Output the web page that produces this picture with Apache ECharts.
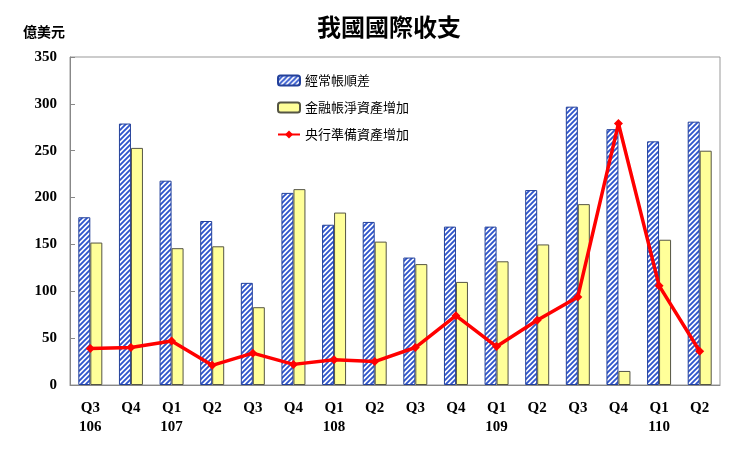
<!DOCTYPE html>
<html><head><meta charset="utf-8">
<script src="https://cdn.jsdelivr.net/npm/echarts@6/dist/echarts.min.js"></script>
<style>html,body{margin:0;padding:0;background:#fff}#c{width:747px;height:459px}</style>
</head><body><div id="c"></div>
<script>
const categories = ['Q3\n106','Q4','Q1\n107','Q2','Q3','Q4','Q1\n108','Q2','Q3','Q4','Q1\n109','Q2','Q3','Q4','Q1\n110','Q2'];
const currentAccount = [179, 279, 218, 175, 109, 205, 171, 174, 136, 169, 169, 208, 297, 273, 260, 281];
const financialAccount = [152, 253, 146, 148, 83, 209, 184, 153, 129, 110, 132, 150, 193, 15, 155, 250];
const reserveAssets = [39, 40, 47, 21, 34, 22, 27, 25, 40, 74, 41, 69, 94, 279, 106, 36];
const seriesNames = ['經常帳順差','金融帳淨資產增加','央行準備資產增加'];

function hatch(){
  const n = 5, c = document.createElement('canvas');
  c.width = n; c.height = n;
  const g = c.getContext('2d');
  g.fillStyle = '#ffffff'; g.fillRect(0,0,n,n);
  g.strokeStyle = '#2f55cc'; g.lineWidth = 1.9;
  g.beginPath();
  g.moveTo(-1, n+1); g.lineTo(n+1, -1);
  g.moveTo(-1, 1); g.lineTo(1, -1);
  g.moveTo(n-1, n+1); g.lineTo(n+1, n-1);
  g.stroke();
  return c;
}
const chart = echarts.init(document.getElementById('c'));
const serif = '"Liberation Serif","Times New Roman",serif';
const cjk = '"Noto Sans CJK TC","Noto Sans CJK SC",sans-serif';
chart.setOption({
  animation: false,
  backgroundColor: '#fff',
  title: [
    {text: '我國國際收支', left: 384, top: 10, textAlign: 'center',
     textStyle: {fontFamily: cjk, fontSize: 24, fontWeight: 'bold', color: '#000'}},
    {text: '億美元', left: 18, top: 20,
     textStyle: {fontFamily: cjk, fontSize: 14, fontWeight: 'bold', color: '#000'}}
  ],
  legend: {
    orient: 'vertical', left: 272, top: 69, itemGap: 14,
    itemWidth: 22, itemHeight: 10,
    textStyle: {fontFamily: cjk, fontSize: 13, color: '#000'},
    data: seriesNames
  },
  grid: {left: 70, right: 27, top: 57, bottom: 74, show: true, borderColor: '#999', borderWidth: 1},
  xAxis: {
    type: 'category', data: categories,
    axisLine: {lineStyle: {color: '#888'}},
    axisTick: {inside: true, length: 5, lineStyle: {color: '#888'}},
    axisLabel: {fontFamily: serif, fontWeight: 'bold', fontSize: 15, color: '#000', margin: 14, lineHeight: 19, interval: 0}
  },
  yAxis: {
    type: 'value', min: 0, max: 350, interval: 50,
    splitLine: {show: false},
    axisLine: {show: true, lineStyle: {color: '#888'}},
    axisTick: {show: true, inside: true, length: 5, lineStyle: {color: '#888'}},
    axisLabel: {fontFamily: serif, fontWeight: 'bold', fontSize: 15, color: '#000', margin: 13}
  },
  series: [
    {name: seriesNames[0], type: 'bar', data: currentAccount, barWidth: 12, barGap: '0%',
     itemStyle: {color: {image: hatch(), repeat: 'repeat'}, borderColor: '#23409a', borderWidth: 1}},
    {name: seriesNames[1], type: 'bar', data: financialAccount, barWidth: 12,
     itemStyle: {color: '#ffff99', borderColor: '#555544', borderWidth: 1}},
    {name: seriesNames[2], type: 'line', data: reserveAssets, symbol: 'diamond', symbolSize: 9,
     lineStyle: {color: '#ff0000', width: 3.5}, itemStyle: {color: '#ff0000'}, z: 5}
  ]
});
</script></body></html>
